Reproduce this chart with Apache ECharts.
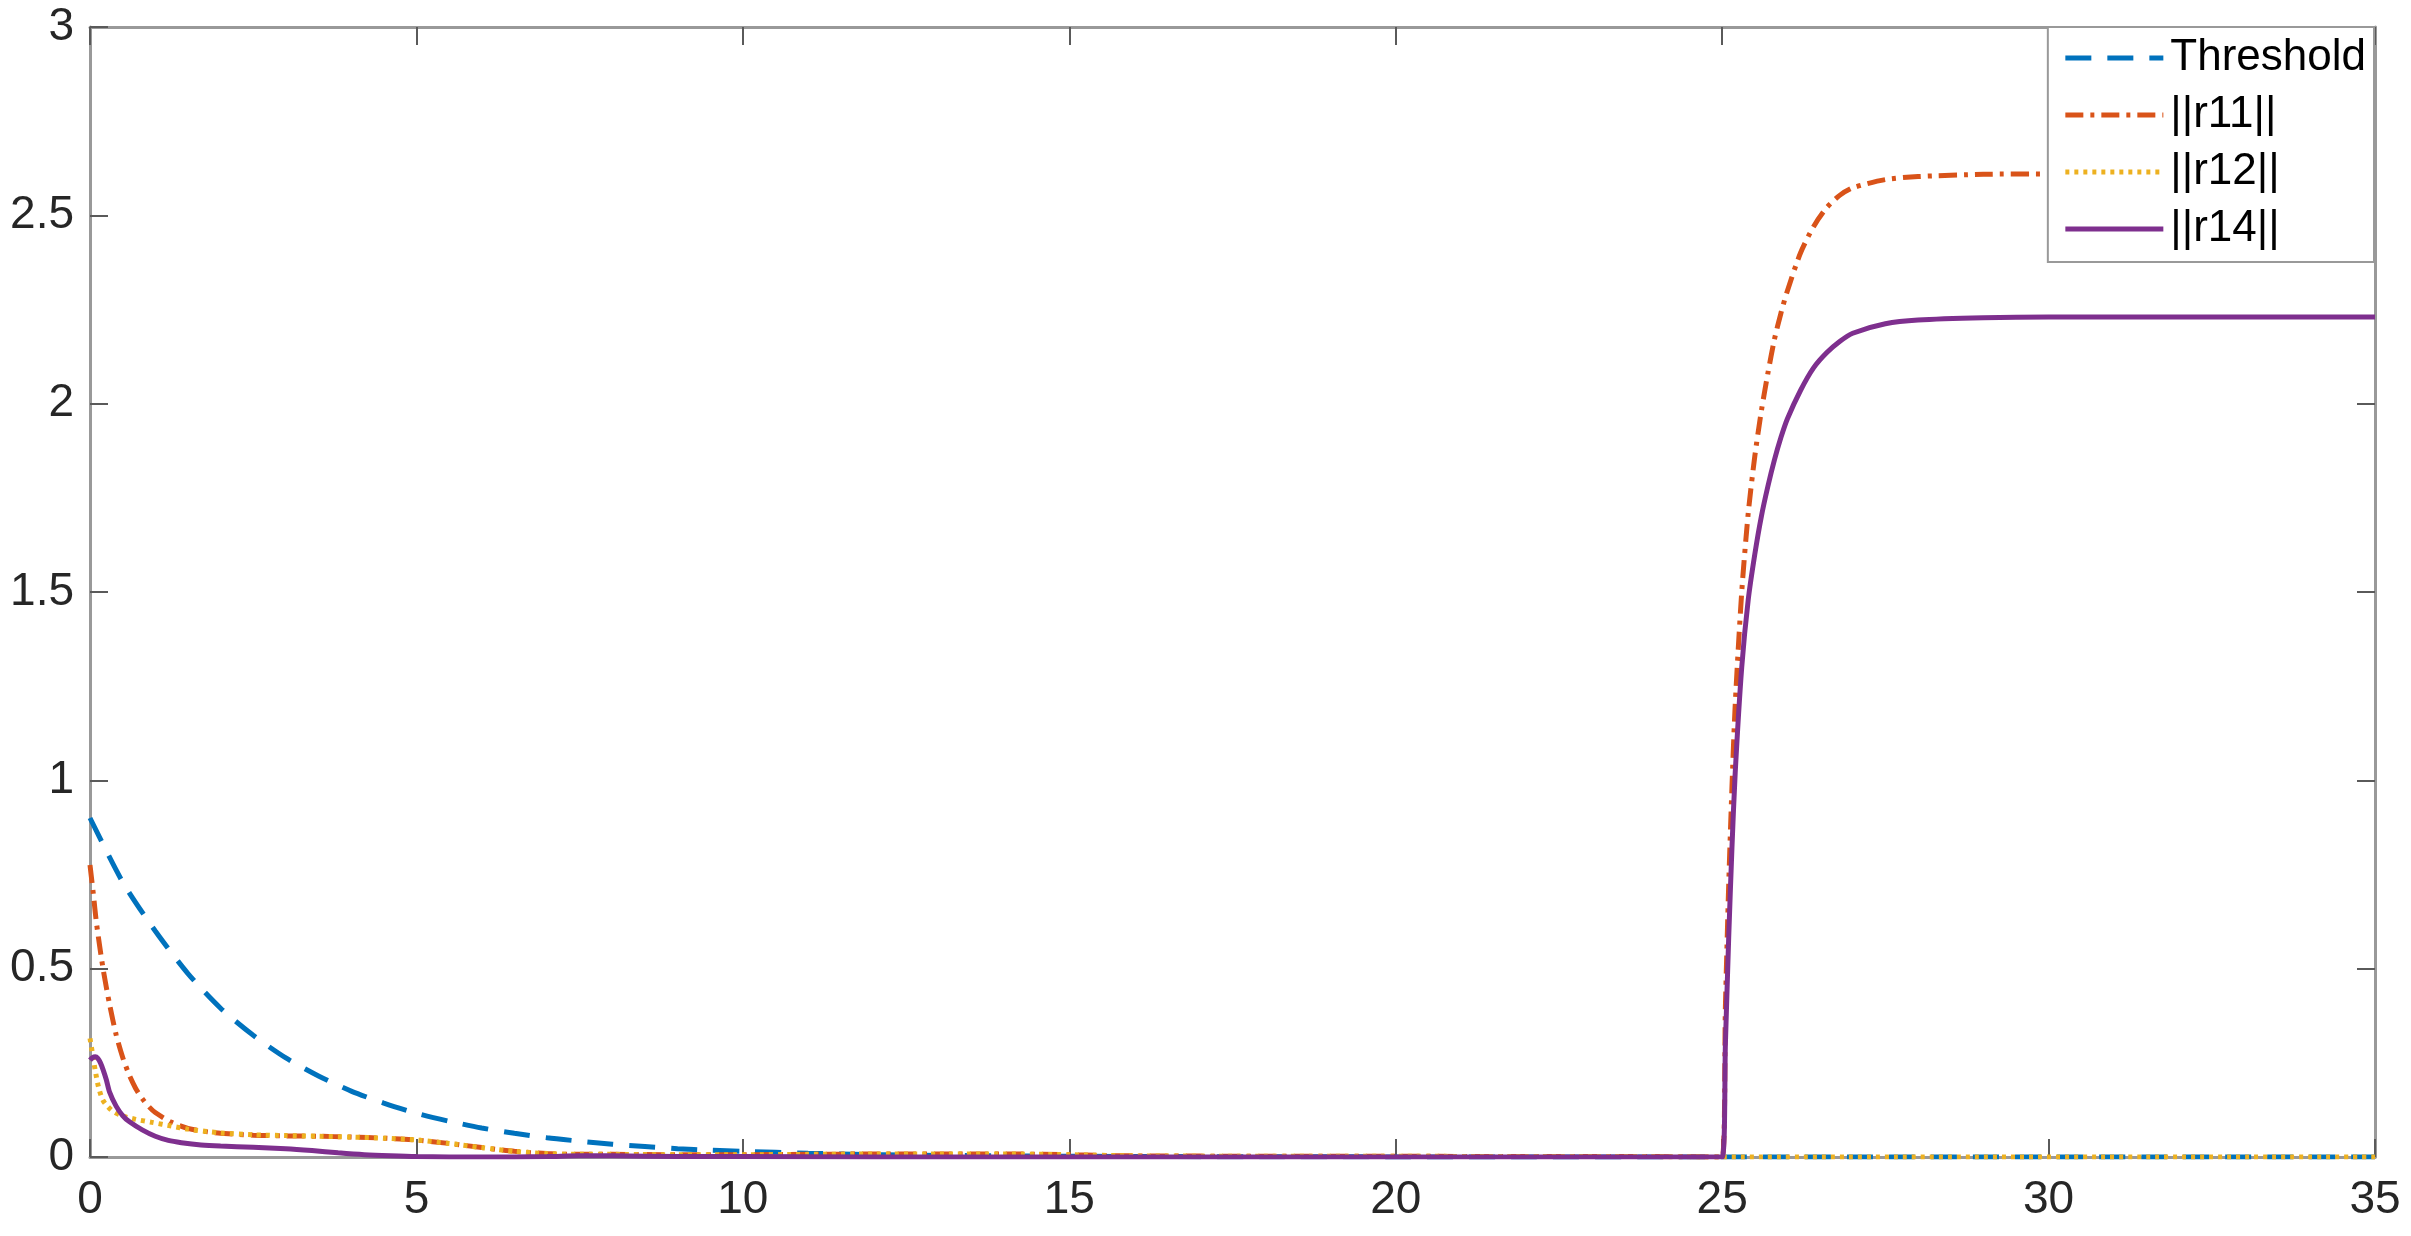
<!DOCTYPE html>
<html>
<head>
<meta charset="utf-8">
<script src="https://cdn.jsdelivr.net/npm/echarts@6/dist/echarts.min.js"></script>
<style>
html,body{margin:0;padding:0;background:#fff;}
#chart{width:2411px;height:1236px;}
</style>
</head>
<body>
<div id="chart"></div>
<script>
// ---- data ----
const seriesNames = ['Threshold', '||r11||', '||r12||', '||r14||'];

const tThr = [0, 0.5, 1, 1.5, 2, 2.5, 3, 3.5, 4, 4.5, 5, 5.5, 6, 6.5, 7, 7.5, 8, 8.5, 9, 9.5, 10, 11, 12, 13, 14, 16, 18, 20, 22, 24, 25, 35];
const vThr = [0.9, 0.73, 0.6, 0.487, 0.395, 0.323, 0.263, 0.215, 0.175, 0.143, 0.116, 0.095, 0.077, 0.063, 0.051, 0.042, 0.034, 0.028, 0.022, 0.018, 0.015, 0.010, 0.0065, 0.0043, 0.0029, 0.0013, 0.0006, 0.0003, 0.0001, 0, 0, 0];

const tR11 = [0, 0.05, 0.1, 0.2, 0.3, 0.4, 0.5, 0.6, 0.7, 0.8, 0.9, 1.0, 1.25, 1.5, 1.75, 2, 2.5, 3, 3.5, 4, 4.5, 5, 5.5, 6, 6.5, 7, 7.5, 8, 9, 10, 11, 12, 13, 14, 15, 15.5, 16, 18, 20, 22, 24, 25, 25.05, 25.1, 25.15, 25.2, 25.3, 25.4, 25.5, 25.6, 25.7, 25.8, 25.9, 26, 26.2, 26.4, 26.6, 26.8, 27, 27.5, 28, 29, 30, 35];
const vR11 = [0.775, 0.7, 0.62, 0.5, 0.405, 0.325, 0.265, 0.218, 0.182, 0.155, 0.134, 0.118, 0.092, 0.076, 0.068, 0.063, 0.058, 0.056, 0.055, 0.053, 0.05, 0.045, 0.036, 0.025, 0.015, 0.009, 0.007, 0.007, 0.006, 0.006, 0.007, 0.008, 0.008, 0.008, 0.006, 0.004, 0.003, 0.002, 0.002, 0.001, 0.001, 0, 0.4, 0.72, 0.98, 1.2, 1.5, 1.71, 1.86, 1.98, 2.08, 2.17, 2.24, 2.3, 2.4, 2.47, 2.52, 2.553, 2.573, 2.595, 2.603, 2.609, 2.61, 2.61];

const tR12 = [0, 0.03, 0.08, 0.13, 0.2, 0.33, 0.48, 0.7, 0.95, 1.25, 1.5, 2, 2.5, 3, 3.5, 4, 4.5, 5, 5.5, 6, 6.5, 7, 7.5, 8, 9, 10, 11, 12, 13, 14, 15, 16, 18, 20, 22, 24, 25, 35];
const vR12 = [0.315, 0.283, 0.23, 0.186, 0.15, 0.124, 0.11, 0.1, 0.092, 0.082, 0.074, 0.064, 0.059, 0.057, 0.055, 0.053, 0.05, 0.045, 0.036, 0.025, 0.015, 0.009, 0.007, 0.007, 0.006, 0.006, 0.007, 0.008, 0.008, 0.008, 0.006, 0.003, 0.002, 0.002, 0.001, 0.001, 0, 0];

const tR14 = [0, 0.04, 0.08, 0.12, 0.16, 0.2, 0.25, 0.3, 0.4, 0.5, 0.6, 0.8, 1.0, 1.2, 1.4, 1.7, 2.0, 2.5, 3.0, 3.4, 3.8, 4.2, 4.6, 5, 6, 7, 7.5, 8, 9, 10, 12, 15, 20, 24, 25, 25.05, 25.1, 25.15, 25.2, 25.3, 25.4, 25.5, 25.6, 25.7, 25.8, 25.9, 26, 26.2, 26.4, 26.6, 26.8, 27, 27.5, 28, 29, 30, 35];
const vR14 = [0.257, 0.264, 0.266, 0.262, 0.25, 0.232, 0.205, 0.172, 0.135, 0.11, 0.094, 0.072, 0.055, 0.044, 0.038, 0.032, 0.029, 0.026, 0.022, 0.017, 0.011, 0.006, 0.003, 0.001, 0, 0.001, 0.003, 0.003, 0.001, 0.001, 0, 0, 0, 0, 0, 0.3, 0.58, 0.82, 1.02, 1.3, 1.48, 1.6, 1.7, 1.78, 1.85, 1.91, 1.96, 2.035, 2.095, 2.135, 2.165, 2.187, 2.212, 2.222, 2.228, 2.23, 2.23];

const xTicks = {min: 0, max: 35, interval: 5};
const yTicks = {min: 0, max: 3, interval: 0.5};

// ---- build ----
function pairs(t, v) { return t.map((x, i) => [x, v[i]]); }
const FONT = "'Liberation Sans', Arial, Helvetica, sans-serif";
const AXIS_COLOR = '#999999';
const TICK_COLOR = '#5a5a5a';

const chart = echarts.init(document.getElementById('chart'), null, {renderer: 'canvas'});

function axisCommon(showLabel, isX) {
  return {
    type: 'value',
    min: isX ? xTicks.min : yTicks.min,
    max: isX ? xTicks.max : yTicks.max,
    interval: isX ? xTicks.interval : yTicks.interval,
    axisLine: {show: true, onZero: false, lineStyle: {color: AXIS_COLOR, width: 3}},
    axisTick: {show: true, inside: true, length: 18, lineStyle: {color: TICK_COLOR, width: 2}},
    splitLine: {show: false},
    axisLabel: {
      show: showLabel,
      fontSize: 46,
      fontFamily: FONT,
      color: '#262626',
      margin: isX ? 20 : 16
    }
  };
}

const option = {
  animation: false,
  backgroundColor: '#ffffff',
  grid: {left: 90, right: 36, top: 27, bottom: 79, containLabel: false},
  xAxis: [
    Object.assign(axisCommon(true, true), {position: 'bottom'}),
    Object.assign(axisCommon(false, true), {position: 'top'})
  ],
  yAxis: [
    Object.assign(axisCommon(true, false), {position: 'left'}),
    Object.assign(axisCommon(false, false), {position: 'right'})
  ],
  legend: {
    orient: 'vertical',
    right: 37,
    top: 27,
    padding: [6, 8, 8, 15],
    itemGap: 7,
    itemWidth: 98,
    itemHeight: 20,
    backgroundColor: '#ffffff',
    borderColor: '#999999',
    borderWidth: 2,
    borderRadius: 0,
    itemStyle: {opacity: 0},
    lineStyle: {width: 5},
    textStyle: {fontSize: 44, lineHeight: 50, fontFamily: FONT, color: '#000000', padding: [0, 0, 0, 2]},
    data: seriesNames
  },
  series: [
    {
      name: seriesNames[0], type: 'line', data: pairs(tThr, vThr),
      symbol: 'none', smooth: 0.25,
      lineStyle: {color: '#0072BD', width: 5, type: [26, 16]},
      itemStyle: {color: '#0072BD'}
    },
    {
      name: seriesNames[1], type: 'line', data: pairs(tR11, vR11),
      symbol: 'none', smooth: 0.25,
      lineStyle: {color: '#D95319', width: 5, type: [18, 7, 4, 7]},
      itemStyle: {color: '#D95319'}
    },
    {
      name: seriesNames[2], type: 'line', data: pairs(tR12, vR12),
      symbol: 'none', smooth: 0.25,
      lineStyle: {color: '#EDB120', width: 5, type: [4, 5]},
      itemStyle: {color: '#EDB120'}
    },
    {
      name: seriesNames[3], type: 'line', data: pairs(tR14, vR14),
      symbol: 'none', smooth: 0.25,
      lineStyle: {color: '#7E2F8E', width: 5, type: 'solid'},
      itemStyle: {color: '#7E2F8E'}
    }
  ]
};
chart.setOption(option);
</script>
</body>
</html>
